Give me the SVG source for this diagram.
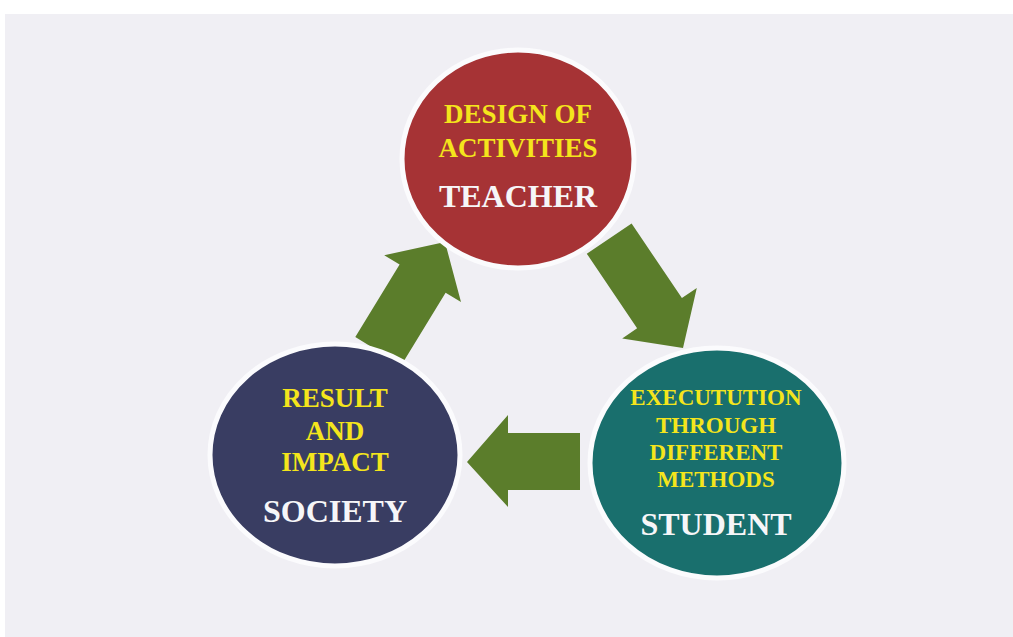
<svg xmlns="http://www.w3.org/2000/svg" width="1013" height="637" viewBox="0 0 1013 637">
<style>
.ring{stroke:#fbfbfd;stroke-width:5}
.arrow{fill:#5b7d2b}
.y{fill:#f4e51c;font-family:"Liberation Serif",serif;font-weight:bold;text-anchor:middle}
.w{fill:#f6f6f8;font-family:"Liberation Serif",serif;font-weight:bold;text-anchor:middle;font-size:32px}
</style>
<rect x="0" y="0" width="1013" height="637" fill="#ffffff"/>
<rect x="5" y="14" width="1008" height="623" fill="#f0eff4"/>
<g id="connectors">
<polygon class="arrow" points="401.3,365.3 445.6,292.8 461,302.1 445,242 384.2,255.3 399.6,264.6 355.3,337.1"/>
<polygon class="arrow" points="631.6,223.5 681.9,298.1 696.8,288 683,348 622.2,338.4 637.1,328.3 586.8,253.7"/>
<polygon class="arrow" points="580,433 508,433 508,415 467,462 508,507 508,490 580,490"/>
</g>
<g id="teacher">
<ellipse class="ring" cx="518" cy="159" rx="116" ry="109" fill="#a63335"/>
<text class="y" x="518" y="123" font-size="27">DESIGN OF</text>
<text class="y" x="518" y="157" font-size="27">ACTIVITIES</text>
<text class="w" x="518" y="207">TEACHER</text>
</g>
<g id="society">
<ellipse class="ring" cx="335" cy="455" rx="125" ry="111" fill="#393d62"/>
<text class="y" x="335" y="407" font-size="27">RESULT</text>
<text class="y" x="335" y="440" font-size="27">AND</text>
<text class="y" x="335" y="471" font-size="27">IMPACT</text>
<text class="w" x="335" y="522">SOCIETY</text>
</g>
<g id="student">
<ellipse class="ring" cx="717" cy="463" rx="127" ry="115" fill="#196f6d"/>
<text class="y" x="716" y="405" font-size="23">EXECUTUTION</text>
<text class="y" x="716" y="433" font-size="23">THROUGH</text>
<text class="y" x="716" y="460" font-size="23">DIFFERENT</text>
<text class="y" x="716" y="487" font-size="23">METHODS</text>
<text class="w" x="716" y="535">STUDENT</text>
</g>
</svg>
